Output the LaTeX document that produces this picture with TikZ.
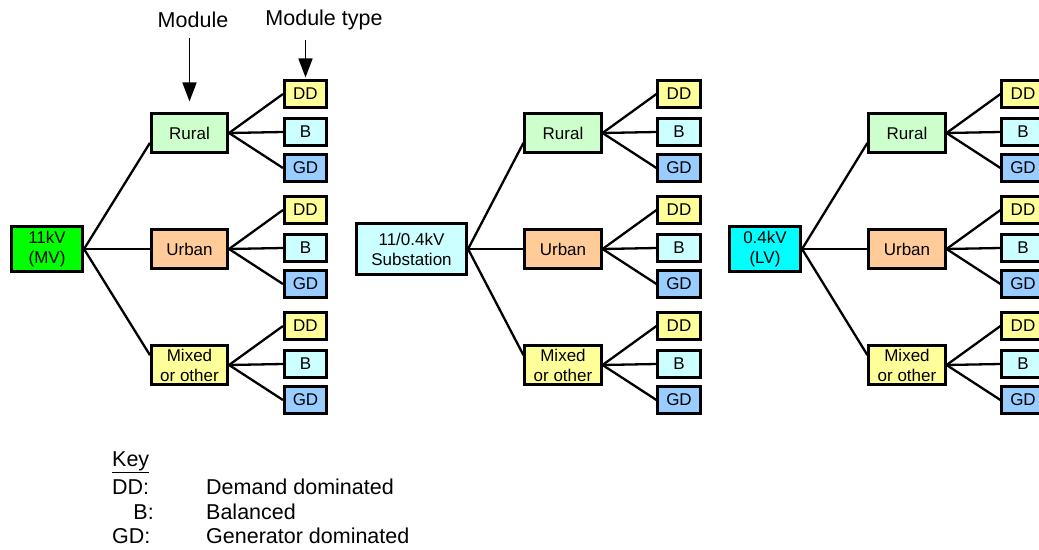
\documentclass[tikz,border=0pt]{standalone}
\usepackage{fontspec}
\setmainfont{Liberation Sans}
\usetikzlibrary{arrows.meta}
\definecolor{ddyellow}{RGB}{255,255,153}
\definecolor{bcyan}{RGB}{204,255,255}
\definecolor{gdblue}{RGB}{153,204,255}
\definecolor{ruralgreen}{RGB}{204,255,204}
\definecolor{urbanorange}{RGB}{255,204,153}
\definecolor{mvgreen}{RGB}{0,255,0}
\definecolor{lvcyan}{RGB}{0,255,255}
\tikzset{
	box/.style={draw=black, line width=2.6pt, inner sep=0pt, align=center, font=\fontsize{17}{20}\selectfont},
	typebox/.style={box, minimum width=42.5pt, minimum height=26.5pt},
	ddbox/.style={typebox, fill=ddyellow},
	bbox/.style={typebox, fill=bcyan},
	gdbox/.style={typebox, fill=gdblue},
	modbox/.style={box, minimum width=76.5pt, minimum height=38.5pt},
	rootbox/.style={box, minimum width=71.5pt, minimum height=45.5pt},
	conn/.style={line width=2.3pt},
	pointer/.style={line width=1.7pt, -{Triangle[length=19pt,width=14pt]}},
	bigtext/.style={inner sep=0pt, font=\fontsize{21.5}{24}\selectfont}
}
\def\typeboxes#1{%
	\node[ddbox] (#1dd) at ([shift={(116,-39)}]#1) {DD};
	\node[bbox] (#1b) at ([shift={(116,-1)}]#1) {B};
	\node[gdbox] (#1gd) at ([shift={(116,35)}]#1) {GD};
	\draw[conn] (#1.east) -- (#1dd.west);
	\draw[conn] (#1.east) -- (#1b.west);
	\draw[conn] (#1.east) -- (#1gd.west);
}

\begin{document}
\begin{tikzpicture}[x=1pt, y=-1pt]
			%%%%% START %%%%%
			\useasboundingbox (0, 0) rectangle (1039, 549);
			\clip (0, 0) rectangle (1039, 549);
			
			% left tree
			\node[rootbox, fill=mvgreen] (mv) at (47, 249) {11kV\\(MV)};
			\node[modbox, fill=ruralgreen] (lrural) at (189.5, 133) {Rural};
			\node[modbox, fill=urbanorange] (lurban) at (189.5, 249) {Urban};
			\node[modbox, fill=ddyellow] (lmixed) at (189.5, 365) {Mixed\\or other};
			\draw[conn] (mv.east) -- (lrural.194);
			\draw[conn] (mv.east) -- (lurban.west);
			\draw[conn] (mv.east) -- (lmixed.166);
			\typeboxes{lrural}
			\typeboxes{lurban}
			\typeboxes{lmixed}
			
			% middle tree
			\node[box, fill=bcyan, minimum width=110.5pt, minimum height=51.5pt] (sub) at (411.5, 249) {11/0.4kV\\Substation};
			\node[modbox, fill=ruralgreen] (mrural) at (563, 133) {Rural};
			\node[modbox, fill=urbanorange] (murban) at (563, 249) {Urban};
			\node[modbox, fill=ddyellow] (mmixed) at (563, 365) {Mixed\\or other};
			\draw[conn] (sub.east) -- (mrural.194);
			\draw[conn] (sub.east) -- (murban.west);
			\draw[conn] (sub.east) -- (mmixed.166);
			\typeboxes{mrural}
			\typeboxes{murban}
			\typeboxes{mmixed}
			
			% right tree
			\node[rootbox, fill=lvcyan] (lv) at (765, 249) {0.4kV\\(LV)};
			\node[modbox, fill=ruralgreen] (rrural) at (907, 133) {Rural};
			\node[modbox, fill=urbanorange] (rurban) at (907, 249) {Urban};
			\node[modbox, fill=ddyellow] (rmixed) at (907, 365) {Mixed\\or other};
			\draw[conn] (lv.east) -- (rrural.194);
			\draw[conn] (lv.east) -- (rurban.west);
			\draw[conn] (lv.east) -- (rmixed.166);
			\typeboxes{rrural}
			\typeboxes{rurban}
			\typeboxes{rmixed}
			
			% pointers
			\node[bigtext] (modlabel) at (193, 20) {Module};
			\node[bigtext] (typelabel) at (324, 20) {Module type};
			\draw[pointer, shorten <=10pt, shorten >=11pt] (modlabel.south -| lrural.north) -- (lrural.north);
			\draw[pointer, shorten <=10pt, shorten >=2pt] (typelabel.south -| lruraldd.north) -- (lruraldd.north);
			
			% key
			\node[bigtext, anchor=west] (keyhead) at (112, 462) {\underline{Key}};
			\node[bigtext, anchor=west] (keydd) at (112, 487) {DD:};
			\node[bigtext, anchor=east] (keyb) at (154, 512) {B:};
			\node[bigtext, anchor=west] (keygd) at (112, 536) {GD:};
			\node[bigtext, anchor=west] (descdd) at (206, 487) {Demand dominated};
			\node[bigtext, anchor=west] (descb) at (206, 512) {Balanced};
			\node[bigtext, anchor=west] (descgd) at (206, 536) {Generator dominated};
			%%%%% END %%%%%
\end{tikzpicture}
\end{document}
